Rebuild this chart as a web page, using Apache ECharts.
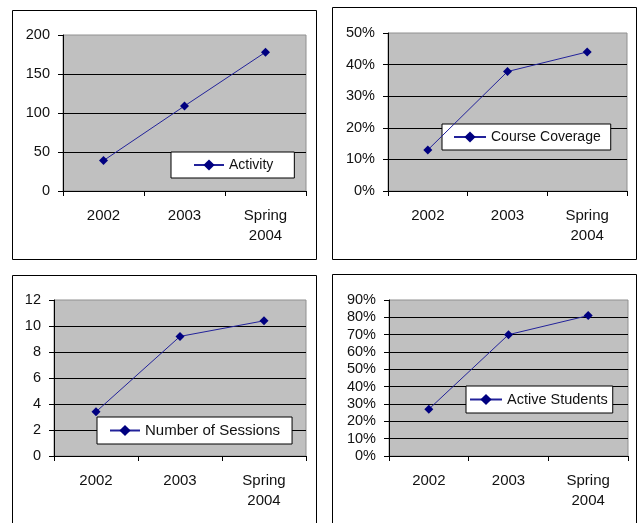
<!DOCTYPE html>
<html><head><meta charset="utf-8">
<script src="https://cdn.jsdelivr.net/npm/echarts@6/dist/echarts.min.js"></script>
<style>html,body{margin:0;padding:0;background:#fff}#c{width:639px;height:523px}</style>
</head><body><div id="c"></div>
<script>
var categories = ['2002', '2003', 'Spring\n2004'];
var activity = [39, 109, 178];
var courseCoverage = [13, 37.8, 44];
var sessions = [3.4, 9.2, 10.4];
var activeStudents = [27, 70, 81];
var names = ['Activity', 'Course Coverage', 'Number of Sessions', 'Active Students'];
var yMax = [200, 50, 12, 90];
var yStep = [50, 10, 2, 10];
var yFmt = ['{value}', '{value}%', '{value}', '{value}%'];
var seriesData = [activity, courseCoverage, sessions, activeStudents];

var FONT = 'Liberation Sans, Arial, sans-serif';
var grids = [
  {left: 63, top: 35, width: 243, height: 156},
  {left: 388, top: 33, width: 239, height: 158},
  {left: 54, top: 300, width: 252, height: 156},
  {left: 389, top: 300, width: 239, height: 156}
];
var legendLayout = [
  {left: 171, top: 152, pad: [6, 21, 6, 22], iw: 30, fs: 14},
  {left: 442, top: 124, pad: [6, 10, 6, 11], iw: 32, fs: 14},
  {left: 97, top: 417, pad: [6, 12, 6, 12], iw: 30, fs: 15},
  {left: 466, top: 386, pad: [6, 5, 6, 3], iw: 32, fs: 14.5}
];
var panels = [
  {x: 12.5, y: 10.5, w: 304, h: 249},
  {x: 332.5, y: 7.5, w: 304, h: 252},
  {x: 12.5, y: 275.5, w: 304, h: 260},
  {x: 332.5, y: 274.5, w: 304, h: 260}
];

var option = {
  animation: false,
  backgroundColor: '#fff',
  textStyle: {fontFamily: FONT},
  graphic: panels.map(function (p) {
    return {type: 'rect', shape: {x: p.x, y: p.y, width: p.w, height: p.h},
      style: {fill: 'none', stroke: '#000', lineWidth: 1}, silent: true, z: -10};
  }),
  grid: grids.map(function (g) {
    return Object.assign({show: true, backgroundColor: '#c0c0c0', borderColor: '#909090', borderWidth: 1}, g);
  }),
  xAxis: grids.map(function (g, i) {
    return {
      type: 'category', gridIndex: i, data: categories, boundaryGap: true,
      axisLine: {lineStyle: {color: '#000', width: 1}},
      axisTick: {show: true, length: 5, lineStyle: {color: '#000'}},
      axisLabel: {color: '#111', fontSize: 15, fontFamily: FONT, margin: 15, lineHeight: 20, interval: 0},
      splitLine: {show: false}
    };
  }),
  yAxis: grids.map(function (g, i) {
    return {
      type: 'value', gridIndex: i, min: 0, max: yMax[i], interval: yStep[i],
      axisLine: {show: true, lineStyle: {color: '#000', width: 1}},
      axisTick: {show: true, length: 5, lineStyle: {color: '#000'}},
      axisLabel: {color: '#111', fontSize: 14.5, fontFamily: FONT, margin: 13, formatter: yFmt[i]},
      splitLine: {show: true, showMaxLine: false, lineStyle: {color: '#000', width: 1}}
    };
  }),
  legend: legendLayout.map(function (p, i) {
    return {
      left: p.left, top: p.top, data: [names[i]],
      orient: 'horizontal',
      backgroundColor: '#fff', borderColor: '#000', borderWidth: 1, borderRadius: 0,
      padding: p.pad, itemWidth: p.iw, itemHeight: 14, itemGap: 0,
      textStyle: {color: '#111', fontSize: p.fs, fontFamily: FONT},
      selectedMode: false
    };
  }),
  series: seriesData.map(function (d, i) {
    return {
      name: names[i], type: 'line', xAxisIndex: i, yAxisIndex: i, data: d,
      symbol: 'diamond', symbolSize: 9, showSymbol: true,
      lineStyle: {color: '#22229a', width: 1},
      itemStyle: {color: '#000080'},
      emphasis: {disabled: true}, z: 5
    };
  })
};
var chart = echarts.init(document.getElementById('c'), null, {renderer: 'canvas'});
chart.setOption(option);
</script></body></html>
